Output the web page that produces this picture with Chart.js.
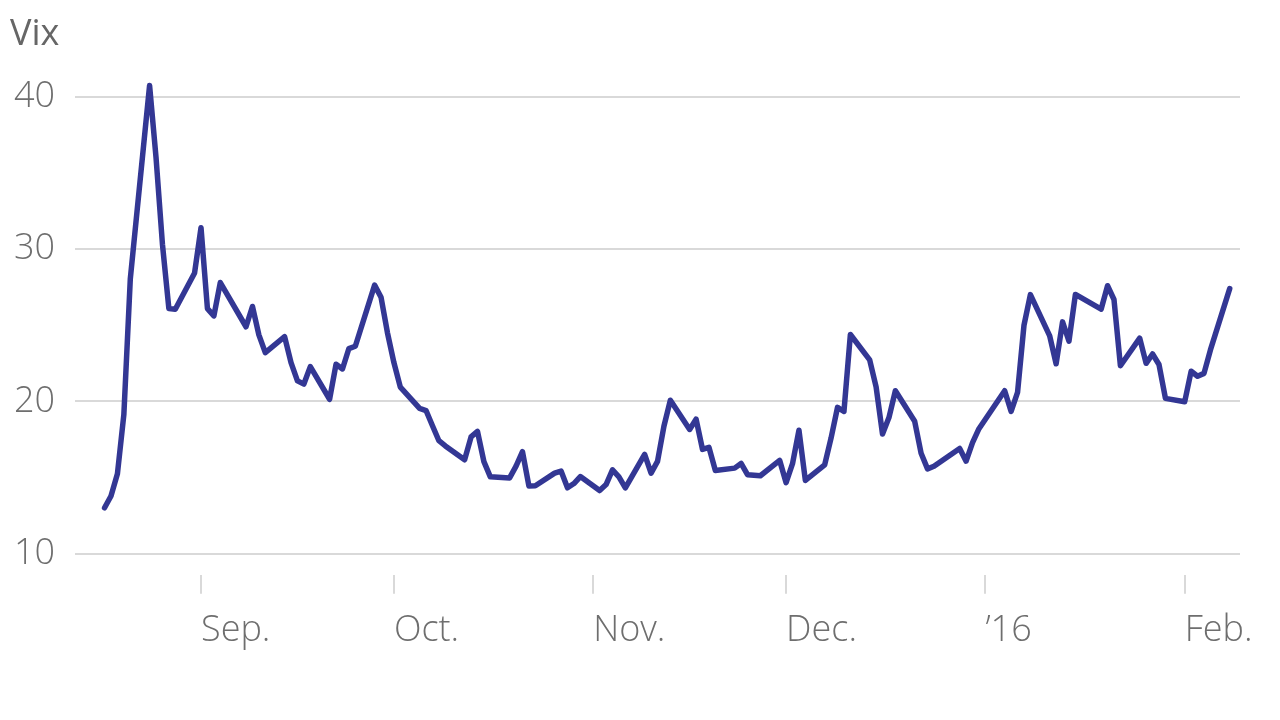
<!DOCTYPE html>
<html>
<head>
<meta charset="utf-8">
<title>Vix</title>
<script src="https://cdn.jsdelivr.net/npm/chart.js@4.4.1/dist/chart.umd.min.js"></script>
<style>
  html, body { margin: 0; padding: 0; background: #fff; }
</style>
</head>
<body>
<canvas id="chart" width="1280" height="720"></canvas>
<script>
// daily closes, Aug 17 2015 - Feb 8 2016
const dates = [
  '2015-08-17', '2015-08-18', '2015-08-19', '2015-08-20', '2015-08-21',
  '2015-08-24', '2015-08-25', '2015-08-26', '2015-08-27', '2015-08-28',
  '2015-08-31', '2015-09-01', '2015-09-02', '2015-09-03', '2015-09-04',
  '2015-09-08', '2015-09-09', '2015-09-10', '2015-09-11',
  '2015-09-14', '2015-09-15', '2015-09-16', '2015-09-17', '2015-09-18',
  '2015-09-21', '2015-09-22', '2015-09-23', '2015-09-24', '2015-09-25',
  '2015-09-28', '2015-09-29', '2015-09-30', '2015-10-01', '2015-10-02',
  '2015-10-05', '2015-10-06', '2015-10-07', '2015-10-08', '2015-10-09',
  '2015-10-12', '2015-10-13', '2015-10-14', '2015-10-15', '2015-10-16',
  '2015-10-19', '2015-10-20', '2015-10-21', '2015-10-22', '2015-10-23',
  '2015-10-26', '2015-10-27', '2015-10-28', '2015-10-29', '2015-10-30',
  '2015-11-02', '2015-11-03', '2015-11-04', '2015-11-05', '2015-11-06',
  '2015-11-09', '2015-11-10', '2015-11-11', '2015-11-12', '2015-11-13',
  '2015-11-16', '2015-11-17', '2015-11-18', '2015-11-19', '2015-11-20',
  '2015-11-23', '2015-11-24', '2015-11-25', '2015-11-27',
  '2015-11-30', '2015-12-01', '2015-12-02', '2015-12-03', '2015-12-04',
  '2015-12-07', '2015-12-08', '2015-12-09', '2015-12-10', '2015-12-11',
  '2015-12-14', '2015-12-15', '2015-12-16', '2015-12-17', '2015-12-18',
  '2015-12-21', '2015-12-22', '2015-12-23', '2015-12-24',
  '2015-12-28', '2015-12-29', '2015-12-30', '2015-12-31',
  '2016-01-04', '2016-01-05', '2016-01-06', '2016-01-07', '2016-01-08',
  '2016-01-11', '2016-01-12', '2016-01-13', '2016-01-14', '2016-01-15',
  '2016-01-19', '2016-01-20', '2016-01-21', '2016-01-22',
  '2016-01-25', '2016-01-26', '2016-01-27', '2016-01-28', '2016-01-29',
  '2016-02-01', '2016-02-02', '2016-02-03', '2016-02-04', '2016-02-05',
  '2016-02-08'
];
const vix = [
  13.02, 13.79, 15.25, 19.14, 28.03,
  40.74, 36.02, 30.32, 26.10, 26.05,
  28.43, 31.40, 26.09, 25.61, 27.80,
  24.90, 26.23, 24.37, 23.20,
  24.25, 22.54, 21.35, 21.14, 22.28,
  20.14, 22.44, 22.13, 23.47, 23.62,
  27.63, 26.83, 24.50, 22.55, 20.94,
  19.54, 19.40, 18.40, 17.42, 17.08,
  16.17, 17.67, 18.03, 16.05, 15.05,
  14.98, 15.75, 16.70, 14.45, 14.46,
  15.29, 15.43, 14.33, 14.61, 15.07,
  14.15, 14.54, 15.51, 15.05, 14.33,
  16.52, 15.29, 16.06, 18.37, 20.08,
  18.16, 18.84, 16.85, 16.99, 15.47,
  15.62, 15.93, 15.19, 15.12,
  16.13, 14.67, 15.91, 18.11, 14.81,
  15.84, 17.60, 19.61, 19.34, 24.39,
  22.73, 20.95, 17.86, 18.94, 20.70,
  18.70, 16.60, 15.57, 15.74,
  16.91, 16.08, 17.29, 18.21,
  20.70, 19.34, 20.59, 24.99, 27.01,
  24.30, 22.47, 25.22, 23.95, 27.02,
  26.05, 27.59, 26.69, 22.34,
  24.15, 22.50, 23.11, 22.42, 20.20,
  19.98, 21.98, 21.65, 21.84, 23.38,
  27.40
];
const monthTicks = ['2015-09-01', '2015-10-01', '2015-11-01', '2015-12-01', '2016-01-01', '2016-02-01'];
const monthLabels = ['Sep.', 'Oct.', 'Nov.', 'Dec.', '\u201916', 'Feb.'];
const yTicks = [10, 20, 30, 40];

// days counted from Sep 1 2015
function dayOf(s) {
  const [y, m, d] = s.split('-').map(Number);
  return (Date.UTC(y, m - 1, d) - Date.UTC(2015, 8, 1)) / 86400000;
}

const tickDays = monthTicks.map(dayOf);
const labelFont = { family: "'Open Sans', sans-serif", size: 36, weight: 300 };

new Chart(document.getElementById('chart'), {
  type: 'line',
  data: {
    datasets: [{
      label: 'Vix',
      data: dates.map((d, i) => ({ x: dayOf(d), y: vix[i] })),
      borderColor: '#333794',
      borderWidth: 5.5,
      borderJoinStyle: 'round',
      borderCapStyle: 'round',
      pointRadius: 0,
      tension: 0,
      fill: false
    }]
  },
  options: {
    responsive: false,
    devicePixelRatio: 1,
    animation: false,
    layout: { padding: { left: 10, right: 40, top: 0, bottom: 53 } },
    plugins: {
      legend: { display: false },
      tooltip: { enabled: false },
      title: {
        display: true,
        text: 'Vix',
        align: 'start',
        color: '#666666',
        font: { family: "'Open Sans', sans-serif", size: 36, weight: 400 },
        padding: { top: 13, bottom: 10 }
      }
    },
    scales: {
      x: {
        type: 'linear',
        min: -19.6,
        max: 161.6,
        afterBuildTicks: (scale) => {
          scale.ticks = tickDays.map(v => ({ value: v }));
        },
        ticks: {
          autoSkip: false,
          maxRotation: 0,
          align: 'start',
          padding: 15,
          color: '#6e6e6e',
          font: labelFont,
          callback: (value, index) => monthLabels[index]
        },
        grid: {
          drawOnChartArea: false,
          drawTicks: true,
          tickLength: 19,
          color: '#d9d9d9',
          lineWidth: 2
        },
        border: { display: false }
      },
      y: {
        min: 8.62,
        max: 42,
        afterBuildTicks: (scale) => {
          scale.ticks = yTicks.map(v => ({ value: v }));
        },
        afterFit: (scale) => {
          scale.width = 65;
        },
        ticks: {
          padding: 20,
          color: '#6e6e6e',
          font: labelFont
        },
        grid: {
          drawTicks: false,
          color: '#d9d9d9',
          lineWidth: 2
        },
        border: { display: false }
      }
    }
  }
});
</script>
</body>
</html>
